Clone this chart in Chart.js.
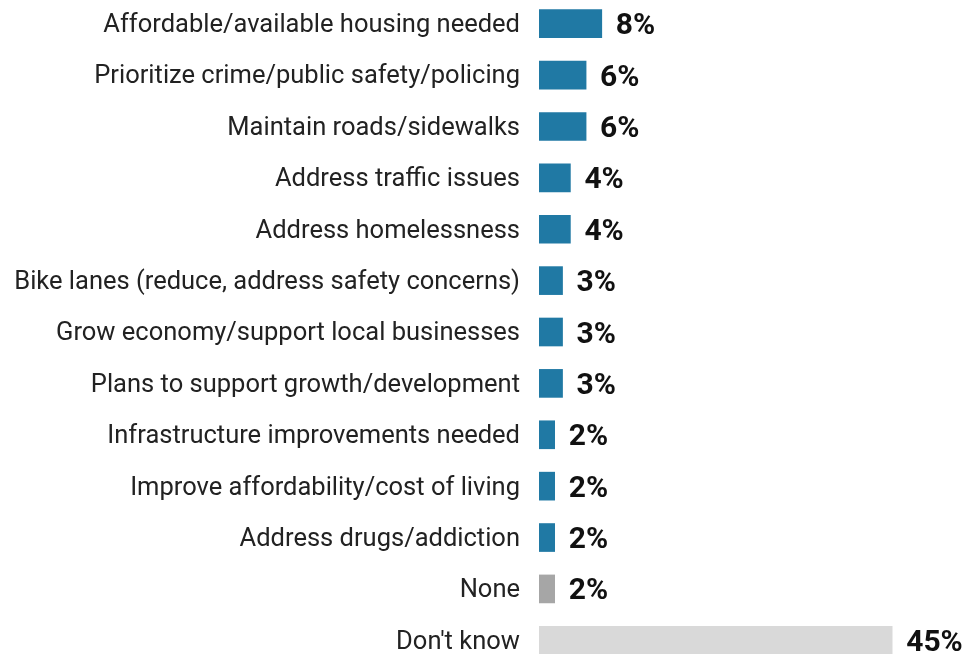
<!DOCTYPE html>
<html>
<head>
<meta charset="utf-8">
<script src="https://cdn.jsdelivr.net/npm/chart.js@4"></script>
<style>
  html, body { margin: 0; padding: 0; background: #fff; overflow: hidden; }
  #wrap { position: relative; width: 973px; height: 668px; margin-top: -2px; }
</style>
</head>
<body>
<div id="wrap"><canvas id="issuesChart"></canvas></div>
<script>
// Kategori dan nilai
const categories = [
    'Affordable/available housing needed',
    'Prioritize crime/public safety/policing',
    'Maintain roads/sidewalks',
    'Address traffic issues',
    'Address homelessness',
    'Bike lanes (reduce, address safety concerns)',
    'Grow economy/support local businesses',
    'Plans to support growth/development',
    'Infrastructure improvements needed',
    'Improve affordability/cost of living',
    'Address drugs/addiction',
    'None',
    "Don't know"
];
const values = [8, 6, 6, 4, 4, 3, 3, 3, 2, 2, 2, 2, 45];
const barColors = [
    '#2079a4', '#2079a4', '#2079a4', '#2079a4', '#2079a4', '#2079a4',
    '#2079a4', '#2079a4', '#2079a4', '#2079a4', '#2079a4', '#a6a6a6', '#d9d9d9'
];

// Label persen di ujung batang
const valueLabels = {
    id: 'valueLabels',
    afterDatasetsDraw(chart) {
        const ctx = chart.ctx;
        const meta = chart.getDatasetMeta(0);
        ctx.save();
        ctx.font = 'bold 30px Roboto';
        ctx.fillStyle = '#111';
        ctx.textAlign = 'left';
        ctx.textBaseline = 'middle';
        meta.data.forEach(function(bar, i) {
            ctx.fillText(values[i] + '%', bar.x + 14, bar.y + 3);
        });
        ctx.restore();
    }
};

new Chart(document.getElementById('issuesChart'), {
    type: 'bar',
    data: {
        labels: categories,
        datasets: [{
            data: values,
            backgroundColor: barColors,
            barThickness: 28
        }]
    },
    options: {
        indexAxis: 'y',
        responsive: true,
        maintainAspectRatio: false,
        animation: false,
        layout: { padding: 0 },
        plugins: {
            legend: { display: false },
            tooltip: { enabled: false }
        },
        scales: {
            x: {
                display: false,
                min: 0,
                max: 55.3
            },
            y: {
                grid: { display: false },
                border: { display: false },
                ticks: {
                    color: '#222',
                    padding: 11,
                    labelOffset: 2,
                    font: { family: 'Roboto', size: 25.5 }
                },
                afterFit(scale) {
                    // kolom label tetap, tanpa ruang ekstra atas/bawah
                    scale.width = 539;
                    scale.paddingTop = 0;
                    scale.paddingBottom = 0;
                }
            }
        }
    },
    plugins: [valueLabels]
});
</script>
</body>
</html>
